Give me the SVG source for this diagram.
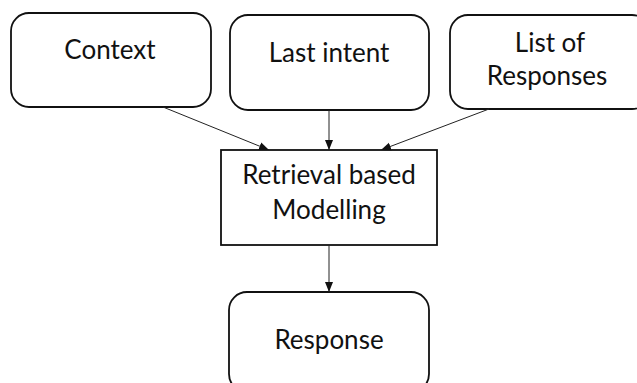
<svg xmlns="http://www.w3.org/2000/svg" width="637" height="383" viewBox="0 0 637 383">
<style>
.box{fill:#fff;stroke:#111;stroke-width:1.8}
.t{font-family:Lato,"Liberation Sans",sans-serif;font-size:26px;fill:#111;text-anchor:middle}
.c{stroke:#222;stroke-width:1;fill:none;marker-end:url(#ah)}
</style>
<defs>
<marker id="ah" viewBox="0 0 10 10" refX="10" refY="5" markerWidth="10" markerHeight="10" markerUnits="userSpaceOnUse" orient="auto">
<path d="M0,1 L10,5 L0,9 Z" fill="#111"/>
</marker>
</defs>
<rect width="637" height="383" fill="#fff"/>
<g id="context"><rect class="box" x="11" y="13" width="200" height="94" rx="18"/><text class="t" x="110" y="59">Context</text></g>
<g id="last-intent"><rect class="box" x="230" y="15" width="199" height="95" rx="18"/><text class="t" x="329" y="62">Last intent</text></g>
<g id="list-of-responses"><rect class="box" x="450" y="15" width="200" height="94" rx="18"/><text class="t" x="550" y="52">List of</text><text class="t" x="547" y="85">Responses</text></g>
<g id="retrieval"><rect class="box" x="221" y="150" width="216" height="95"/><text class="t" x="329" y="184">Retrieval based</text><text class="t" x="329" y="219">Modelling</text></g>
<g id="response"><rect class="box" x="229" y="292" width="200" height="100" rx="18"/><text class="t" x="329" y="349">Response</text></g>
<g id="connectors">
<line class="c" x1="163" y1="107" x2="269" y2="150"/>
<line class="c" x1="329" y1="110" x2="329" y2="150"/>
<line class="c" x1="489" y1="109" x2="381" y2="150"/>
<line class="c" x1="329" y1="245" x2="329" y2="292"/>
</g>
</svg>
